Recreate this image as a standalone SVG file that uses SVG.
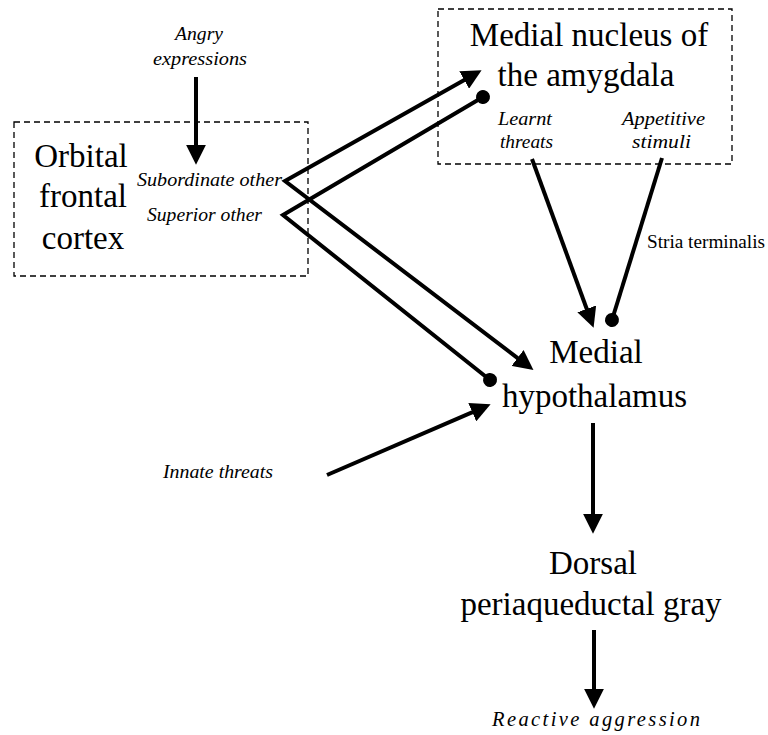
<svg xmlns="http://www.w3.org/2000/svg" width="768" height="735" viewBox="0 0 768 735">
<style>
  text { font-family: 'Liberation Serif', 'Times New Roman', Times, serif; fill: #000; }
  .big { font-size: 33px; text-anchor: middle; }
  .it { font-style: italic; font-size: 19px; }
  .it2 { font-style: italic; font-size: 20.5px; }
  .sm { font-size: 19px; }
  .box { fill: none; stroke: #000; stroke-width: 1.3; stroke-dasharray: 6 4; }
  .conn { fill: none; stroke: #000; stroke-width: 4; stroke-linejoin: miter; stroke-miterlimit: 10; }
</style>
<defs>
  <marker id="arrow" markerUnits="userSpaceOnUse" markerWidth="20" markerHeight="20" viewBox="0 0 18 18" refX="2" refY="9" orient="auto-start-reverse">
    <path d="M0,0 L18,9 L0,18 z" fill="#000"/>
  </marker>
  <marker id="dot" markerUnits="userSpaceOnUse" markerWidth="16" markerHeight="16" viewBox="0 0 16 16" refX="8" refY="8" orient="auto">
    <circle cx="8" cy="8" r="7" fill="#000"/>
  </marker>
</defs>
<rect width="768" height="735" fill="#fff"/>

<g id="ofc">
  <rect class="box" x="14" y="122" width="294" height="154"/>
  <text class="big" x="81" y="167">Orbital</text>
  <text class="big" x="83" y="207">frontal</text>
  <text class="big" x="83" y="249">cortex</text>
  <text class="it" x="137" y="186" textLength="145" lengthAdjust="spacingAndGlyphs">Subordinate other</text>
  <text class="it" x="147" y="221" textLength="115" lengthAdjust="spacingAndGlyphs">Superior other</text>
</g>

<g id="angry">
  <text class="it" x="175" y="40" textLength="48" lengthAdjust="spacingAndGlyphs">Angry</text>
  <text class="it" x="153" y="65" textLength="94" lengthAdjust="spacingAndGlyphs">expressions</text>
</g>

<g id="amygdala">
  <rect class="box" x="438" y="9" width="294" height="155"/>
  <text class="big" x="589" y="46">Medial nucleus of</text>
  <text class="big" x="586" y="86">the amygdala</text>
  <text class="it" x="498" y="125" textLength="54" lengthAdjust="spacingAndGlyphs">Learnt</text>
  <text class="it" x="500" y="148" textLength="53" lengthAdjust="spacingAndGlyphs">threats</text>
  <text class="it" x="622" y="125" textLength="83" lengthAdjust="spacingAndGlyphs">Appetitive</text>
  <text class="it" x="632" y="148" textLength="59" lengthAdjust="spacingAndGlyphs">stimuli</text>
</g>

<g id="hypothalamus">
  <text class="big" x="596" y="363">Medial</text>
  <text class="big" x="594.5" y="407">hypothalamus</text>
</g>

<g id="innate">
  <text class="it" x="163" y="478" textLength="110" lengthAdjust="spacingAndGlyphs">Innate threats</text>
</g>

<g id="pag">
  <text class="big" x="593" y="574">Dorsal</text>
  <text class="big" x="591" y="615">periaqueductal gray</text>
</g>

<g id="reactive">
  <text class="it2" x="492" y="726" textLength="208" lengthAdjust="spacing">Reactive aggression</text>
</g>

<g id="stria-label">
  <text class="sm" x="647" y="248" textLength="118" lengthAdjust="spacingAndGlyphs">Stria terminalis</text>
</g>

<g id="connectors">
  <path class="conn" d="M196,77 L196,147" marker-end="url(#arrow)"/>
  <path class="conn" d="M466.1,78.9 L285,181 L519.3,359.3" marker-start="url(#arrow)" marker-end="url(#arrow)"/>
  <path class="conn" d="M483,97 L283,215 L490,380" marker-start="url(#dot)" marker-end="url(#dot)"/>
  <path class="conn" d="M532,159 L587.5,311" marker-end="url(#arrow)"/>
  <path class="conn" d="M662,158 L612,320" marker-end="url(#dot)"/>
  <path class="conn" d="M327,475 L474.3,411.3" marker-end="url(#arrow)"/>
  <path class="conn" d="M593,423 L593,516" marker-end="url(#arrow)"/>
  <path class="conn" d="M594,630 L594,691" marker-end="url(#arrow)"/>
</g>
</svg>
